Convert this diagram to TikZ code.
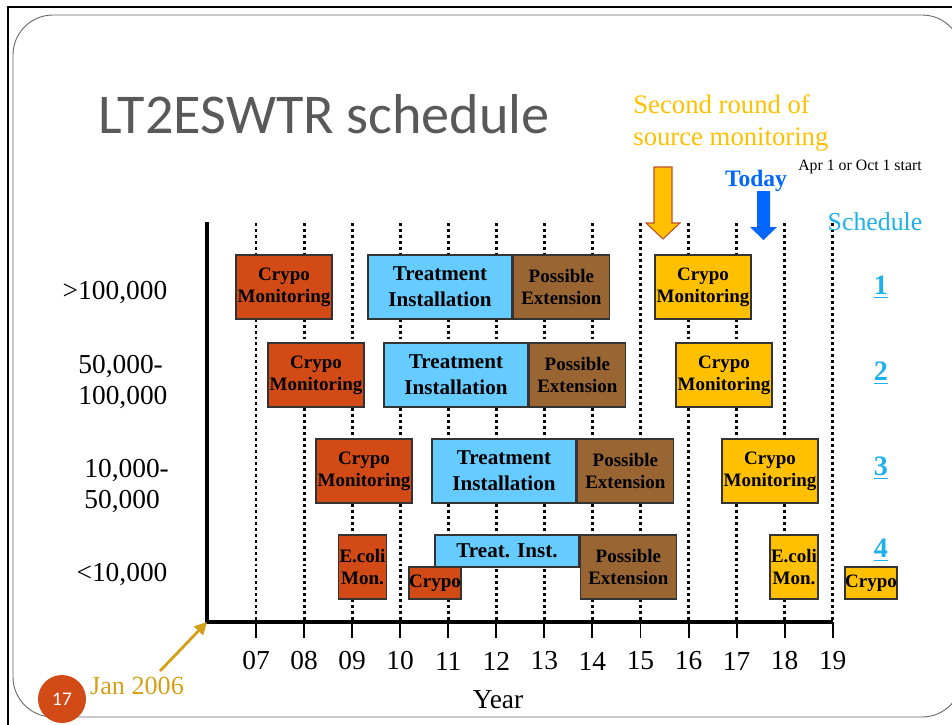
\documentclass[tikz,border=0pt]{standalone}
\usepackage{fontspec}
\setmainfont{Liberation Serif}
\newfontfamily\titlefont{Carlito}
\usetikzlibrary{positioning,arrows.meta}
\definecolor{crypored}{RGB}{210,75,22}
\definecolor{treatblue}{RGB}{102,204,255}
\definecolor{extbrown}{RGB}{153,102,51}
\definecolor{monyellow}{RGB}{255,192,0}
\definecolor{schedblue}{RGB}{28,176,236}
\definecolor{todayblue}{RGB}{0,102,255}
\definecolor{jangold}{RGB}{212,160,23}
\definecolor{titlegray}{RGB}{89,89,89}
\definecolor{arrowrim}{RGB}{190,80,40}

\begin{document}
\begin{tikzpicture}[x=0.02cm,y=-0.02cm,
  box/.style={draw=black!80,line width=0.8pt,inner sep=0pt,align=center,
    font=\bfseries\fontsize{10.8}{12.5}\selectfont},
  bigbox/.style={minimum width=1.92cm,minimum height=1.28cm},
  halfbox/.style={minimum width=0.96cm,minimum height=1.28cm},
  lowbox/.style={minimum width=0.96cm,minimum height=0.64cm},
  crypo/.style={box,fill=crypored},
  treat/.style={box,fill=treatblue,minimum width=2.88cm,minimum height=1.28cm,
    font=\bfseries\fontsize{12}{14.8}\selectfont},
  ext/.style={box,bigbox,fill=extbrown},
  mon/.style={box,fill=monyellow},
  rowlab/.style={font=\fontsize{15.6}{17.6}\selectfont,align=left,inner sep=0pt},
  yearlab/.style={font=\fontsize{15.6}{18}\selectfont,inner sep=0pt},
  dotline/.style={line width=1.7pt,dash pattern=on 1.7pt off 1.7pt},
  axisline/.style={line width=2.2pt},
  schednum/.style={text=schedblue,font=\bfseries\fontsize{16}{18}\selectfont}]
  \clip (0,0) rectangle (952,724);
  \useasboundingbox (0,0) rectangle (952,724);

  % slide frame
  \draw[line width=1.3pt] (8,740) -- (8,7) -- (960,7);
  \draw[black!60,line width=0.5pt,rounded corners=0.8cm] (13,15) rectangle (962,717);

  \node[font=\titlefont\fontsize{32}{36}\selectfont,text=titlegray,anchor=base west,inner sep=0pt]
    (title) at (98,133) {LT2ESWTR schedule};

  % year grid
  \foreach \i/\lab in {0/07,1/08,2/09,3/10,4/11,5/12,6/13,7/14,8/15,9/16,10/17,11/18,12/19} {
    \draw[dotline] ({256+\i*48.06},223) -- ({256+\i*48.06},622);
    \draw[line width=1.1pt] ({256+\i*48.06},622) -- ({256+\i*48.06},638);
    \node[yearlab] (y\lab) at ({256+\i*48.06},661) {\lab};
  }
  \coordinate (origin) at (207,622);
  \draw[axisline] (207,222) -- (origin) -- (833,622);
  \node[yearlab] (year) at (498,700) {Year};

  % populations
  \node[rowlab] (r1) at (115,292) {>100,000};
  \node[rowlab,anchor=west] (r2) at (78,382) {50,000-\\100,000};
  \node[rowlab,anchor=west] (r3) at (84,486) {10,000-\\50,000};
  \node[rowlab] (r4) at (122,574) {<10,000};

  % schedule 1
  \node[crypo,bigbox] (c1) at (284,287) {Crypo\\Monitoring};
  \node[treat] (t1) at (440,287) {Treatment\\Installation};
  \node[ext,right=0pt of t1] (e1) {Possible\\Extension};
  \node[mon,bigbox] (m1) at (703,287) {Crypo\\Monitoring};
  % schedule 2
  \node[crypo,bigbox] (c2) at (316,375) {Crypo\\Monitoring};
  \node[treat] (t2) at (456,375) {Treatment\\Installation};
  \node[ext,right=0pt of t2] (e2) {Possible\\Extension};
  \node[mon,bigbox] (m2) at (724,375) {Crypo\\Monitoring};
  % schedule 3
  \node[crypo,bigbox] (c3) at (364,471) {Crypo\\Monitoring};
  \node[treat] (t3) at (504,471) {Treatment\\Installation};
  \node[ext,right=0pt of t3] (e3) {Possible\\Extension};
  \node[mon,bigbox] (m3) at (770,471) {Crypo\\Monitoring};
  % schedule 4
  \node[crypo,halfbox] (ec4) at (362.5,567) {E.coli\\Mon.};
  \node[crypo,lowbox] (c4) at (435,583) {Crypo};
  \node[treat,minimum height=0.64cm] (t4) at (507,551) {Treat. Inst.};
  \node[ext,anchor=north west] (e4) at (t4.north east) {Possible\\Extension};
  \node[mon,halfbox] (em4) at (794,567) {E.coli\\Mon.};
  \node[mon,lowbox] (m4) at (871,583) {Crypo};

  % schedule numbers
  \node[text=schedblue,font=\fontsize{14.7}{17}\selectfont] (sched) at (875,222) {Schedule};
  \node[schednum] (s1) at (881,287) {\underline{1}};
  \node[schednum] (s2) at (881,373) {\underline{2}};
  \node[schednum] (s3) at (881,468) {\underline{3}};
  \node[schednum] (s4) at (881,550) {\underline{4}};

  % markers
  \node[text=monyellow,font=\fontsize{15.2}{18.2}\selectfont,align=left,anchor=west,inner sep=0pt]
    (second) at (633,123) {Second round of\\source monitoring};
  \draw[fill=monyellow,draw=arrowrim,line width=0.6pt]
    (654,167) -- (672,167) -- (672,223) -- (680,223) -- (663,239) -- (646,223) -- (654,223) -- cycle;
  \node[text=todayblue,font=\bfseries\fontsize{13.4}{15}\selectfont] (today) at (756,181) {Today};
  \node[font=\fontsize{9}{11}\selectfont] (apr) at (860,167) {Apr 1 or Oct 1 start};
  \fill[todayblue]
    (757,191) -- (770,191) -- (770,227) -- (777,227) -- (763.5,240) -- (750,227) -- (757,227) -- cycle;

  % start marker
  \node[text=jangold,font=\fontsize{14.9}{17}\selectfont] (jan) at (137,686) {Jan 2006};
  \coordinate (jantail) at (160,671);
  \draw[jangold,line width=1.6pt,-{Triangle[length=7pt,width=7pt]}] (jantail) -- (origin);

  \node[circle,fill=crypored,minimum size=0.96cm,inner sep=0pt,text=white,
    font=\titlefont\fontsize{11}{13}\selectfont] (page) at (62,699) {17};
\end{tikzpicture}
\end{document}
